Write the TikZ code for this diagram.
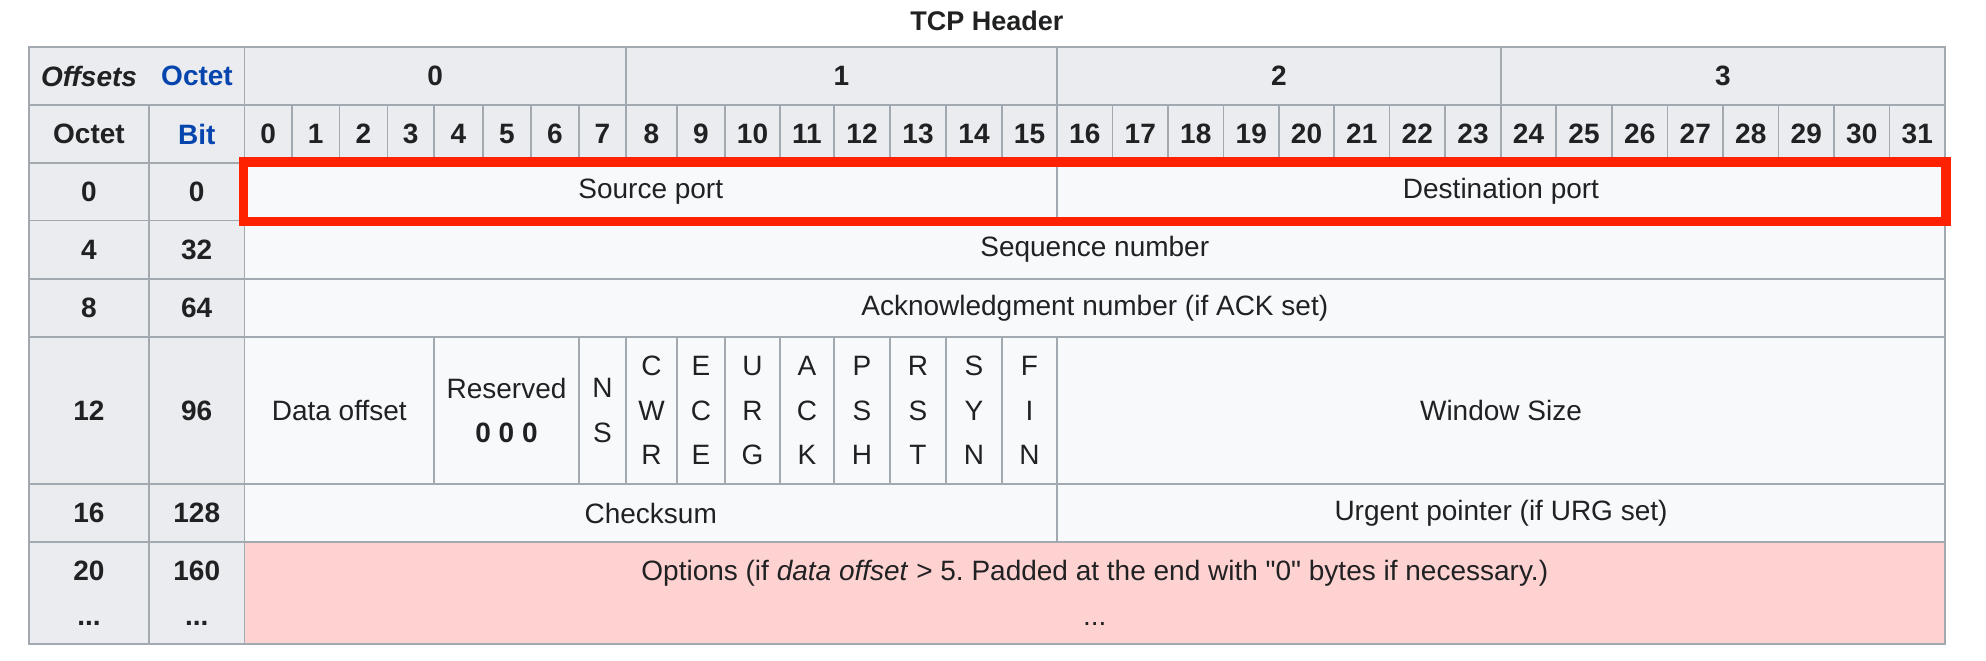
\documentclass[tikz,border=0pt]{standalone}
\usepackage{fontspec}
\setmainfont{Liberation Sans}
\newfontfamily\plainsans{Liberation Sans}
\usetikzlibrary{fit}
\frenchspacing

\definecolor{tabline}{HTML}{A2A9B1}
\definecolor{headfill}{HTML}{EAECF0}
\definecolor{cellfill}{HTML}{F8F9FA}
\definecolor{optfill}{HTML}{FFD2D2}
\definecolor{linkblue}{HTML}{0645AD}
\definecolor{selred}{HTML}{FF2200}
\definecolor{ink}{HTML}{202122}

\begin{document}
\begin{tikzpicture}[x=0.5pt, y=-0.5pt, text=ink,
        font=\fontsize{14}{22.25}\selectfont,
        head/.style={draw=tabline, fill=headfill, line width=0.9pt, inner sep=0pt},
        cell/.style={draw=tabline, fill=cellfill, line width=0.9pt, inner sep=0pt},
        optcell/.style={cell, fill=optfill},
        redbox/.style={draw=selred, line width=4.75pt, inner sep=0pt}]
        \useasboundingbox (0,0) rectangle (1986,660);

        \node[font=\fontsize{13.5}{16}\selectfont] (title) at (987,21) {\textbf{TCP Header}};

        % header rows
        \node[head, fit={(29,47) (244.5,105)}] (corner) {};
        \node at (89,76) {\textbf{\textit{Offsets}}};
        \node[text=linkblue] at (197,76) {\textbf{Octet}};
        \node[head, fit={(29,105) (149,163)}, label=center:\textbf{Octet}] (octethead) {};
        \node[head, fit={(149,105) (244.5,163)}, label={[text=linkblue]center:\textbf{Bit}}] (bithead) {};

        \node[head, fit={(244.5,47) (626,105)},  label=center:\textbf{0}] (oct0) {};
        \node[head, fit={(626,47) (1057,105)},   label=center:\textbf{1}] (oct1) {};
        \node[head, fit={(1057,47) (1501,105)},  label=center:\textbf{2}] (oct2) {};
        \node[head, fit={(1501,47) (1945,105)},  label=center:\textbf{3}] (oct3) {};

        \foreach \b/\xl/\xr in {0/244.5/292, 1/292/339.5, 2/339.5/387.5, 3/387.5/434,
                4/434/483, 5/483/531, 6/531/579, 7/579/626, 8/626/677, 9/677/725,
                10/725/780, 11/780/834, 12/834/890, 13/890/946, 14/946/1002, 15/1002/1057,
                16/1057/1112.5, 17/1112.5/1168, 18/1168/1223.5, 19/1223.5/1279,
                20/1279/1334, 21/1334/1389.5, 22/1389.5/1445, 23/1445/1501,
                24/1501/1556, 25/1556/1612, 26/1612/1667.5, 27/1667.5/1723,
                28/1723/1778.5, 29/1778.5/1834, 30/1834/1889.5, 31/1889.5/1945}
            \node[head, fit={(\xl,105) (\xr,163)}, label=center:\textbf{\b}] (bit\b) {};

        % offset columns
        \node[head, fit={(29,163) (149,220.5)},    label=center:\textbf{0}] (o0) {};
        \node[head, fit={(149,163) (244.5,220.5)}, label=center:\textbf{0}] (b0) {};
        \node[head, fit={(29,220.5) (149,279)},    label=center:\textbf{4}] (o4) {};
        \node[head, fit={(149,220.5) (244.5,279)}, label=center:\textbf{32}] (b32) {};
        \node[head, fit={(29,279) (149,337)},      label=center:\textbf{8}] (o8) {};
        \node[head, fit={(149,279) (244.5,337)},   label=center:\textbf{64}] (b64) {};
        \node[head, fit={(29,337) (149,484)},      label=center:\textbf{12}] (o12) {};
        \node[head, fit={(149,337) (244.5,484)},   label=center:\textbf{96}] (b96) {};
        \node[head, fit={(29,484) (149,542)},      label=center:\textbf{16}] (o16) {};
        \node[head, fit={(149,484) (244.5,542)},   label=center:\textbf{128}] (b128) {};
        \node[head, fit={(29,542) (149,644)},      label={[align=center]center:\textbf{20}\\\textbf{...}}] (o20) {};
        \node[head, fit={(149,542) (244.5,644)},   label={[align=center]center:\textbf{160}\\\textbf{...}}] (b160) {};

        % fields
        \node[cell, fit={(244.5,163) (1057,220.5)}, label=center:{Source port}] (srcport) {};
        \node[cell, fit={(1057,163) (1945,220.5)},  label=center:{Destination port}] (dstport) {};
        \node[cell, fit={(244.5,220.5) (1945,279)}, label=center:{Sequence number}] (seqnum) {};
        \node[cell, fit={(244.5,279) (1945,337)},   label=center:{Acknowledgment number (if ACK set)}] (acknum) {};

        \node[cell, fit={(244.5,337) (434,484)}, label=center:{Data offset}] (dataoff) {};
        \node[cell, fit={(434,337) (579,484)},   label={[align=center]center:Reserved\\\textbf{0 0 0}}] (reserved) {};
        \node[cell, fit={(579,337) (626,484)},   label={[align=center]center:N\\S}] (ns) {};
        \foreach \f/\xl/\xr/\txt in {cwr/626/677/C\\W\\R, ece/677/725/E\\C\\E,
                urg/725/780/U\\R\\G, ack/780/834/A\\C\\K, psh/834/890/P\\S\\H,
                rst/890/946/R\\S\\T, syn/946/1002/S\\Y\\N, fin/1002/1057/F\\I\\N}
            \node[cell, fit={(\xl,337) (\xr,484)}, label={[align=center]center:\txt}] (\f) {};
        \node[cell, fit={(1057,337) (1945,484)}, label=center:{Window Size}] (window) {};

        \node[cell, fit={(244.5,484) (1057,542)}, label=center:Checksum] (checksum) {};
        \node[cell, fit={(1057,484) (1945,542)},  label=center:{Urgent pointer (if URG set)}] (urgent) {};

        \node[optcell, fit={(244.5,542) (1945,644)},
            label={[align=center]center:{Options (if \textit{data offset} > 5.\ Padded at the end with {\plainsans"0"} bytes if necessary.)\\...}}] (options) {};

        \node[redbox, fit=(srcport) (dstport)] (selection) {};
    \end{tikzpicture}
\end{document}
